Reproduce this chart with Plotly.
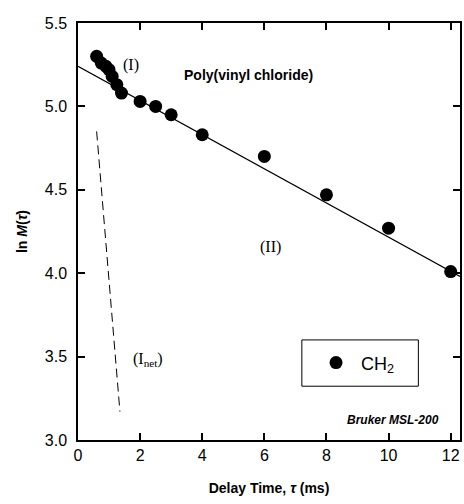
import plotly.graph_objects as go

# data
tau_ms = [0.6, 0.75, 0.9, 1.0, 1.1, 1.25, 1.4, 2.0, 2.5, 3.0, 4.0, 6.0, 8.0, 10.0, 12.0]
ln_M = [5.30, 5.26, 5.24, 5.22, 5.18, 5.13, 5.08, 5.03, 5.00, 4.95, 4.83, 4.70, 4.47, 4.27, 4.01]
fit_x = [0.0, 12.3]
fit_y = [5.24, 3.98]
inet_x = [0.6, 1.35]
inet_y = [4.85, 3.17]
x_ticks = [0, 2, 4, 6, 8, 10, 12]
y_ticks = [3.0, 3.5, 4.0, 4.5, 5.0, 5.5]

FONT = "Liberation Sans, Arial, sans-serif"
SERIF = "Liberation Serif, Times New Roman, serif"

fig = go.Figure()
fig.add_trace(go.Scatter(x=fit_x, y=fit_y, mode="lines",
                         line=dict(color="black", width=1.2), showlegend=False))
fig.add_trace(go.Scatter(x=inet_x, y=inet_y, mode="lines",
                         line=dict(color="black", width=1, dash="9px,5px"), showlegend=False))
fig.add_trace(go.Scatter(x=tau_ms, y=ln_M, mode="markers", name="CH<sub>2</sub>",
                         marker=dict(color="black", size=13, line=dict(width=0))))

fig.update_xaxes(range=[0, 12.3], tickvals=x_ticks, ticktext=[str(v) for v in x_ticks],
                 ticks="inside", ticklen=7, tickwidth=1.5, tickcolor="black",
                 showline=True, linecolor="black", linewidth=1.5, mirror="ticks",
                 showgrid=False, zeroline=False,
                 tickfont=dict(family=FONT, size=16, color="black"),
                 title=dict(text="<b>Delay Time, <i>τ</i> (ms)</b>",
                            font=dict(family=FONT, size=14, color="black"), standoff=20))
fig.update_yaxes(range=[3.0, 5.5], tickvals=y_ticks, ticktext=[f"{v:.1f}" for v in y_ticks],
                 ticks="inside", ticklen=7, tickwidth=1.5, tickcolor="black",
                 showline=True, linecolor="black", linewidth=1.5, mirror="ticks",
                 showgrid=False, zeroline=False, ticklabelstandoff=6,
                 tickfont=dict(family=FONT, size=16, color="black"),
                 title=dict(text="<b>ln <i>M</i>(<i>τ</i>)</b>",
                            font=dict(family=FONT, size=14, color="black"), standoff=14))

fig.add_annotation(x=5.5, y=5.19, text="<b>Poly(vinyl chloride)</b>", showarrow=False,
                   font=dict(family=FONT, size=14, color="black"))
fig.add_annotation(x=1.7, y=5.25, text="(I)", showarrow=False,
                   font=dict(family=SERIF, size=16, color="black"))
fig.add_annotation(x=6.2, y=4.16, text="(II)", showarrow=False,
                   font=dict(family=SERIF, size=16, color="black"))
fig.add_annotation(x=2.25, y=3.48, text="(I<sub>net</sub>)", showarrow=False,
                   font=dict(family=SERIF, size=16, color="black"))
fig.add_annotation(x=11.68, y=3.12, xanchor="right", text="<b><i>Bruker MSL-200</i></b>", showarrow=False,
                   font=dict(family=FONT, size=12, color="black"))

# legend frame
fig.add_shape(type="rect", xref="paper", yref="paper",
              x0=0.586, x1=0.891, y0=0.129, y1=0.240,
              line=dict(color="black", width=1), fillcolor="rgba(0,0,0,0)")

fig.update_layout(
    width=464, height=504,
    margin=dict(l=78, r=2, t=23, b=64),
    plot_bgcolor="white", paper_bgcolor="white",
    showlegend=True,
    legend=dict(x=0.61, y=0.185, xanchor="left", yanchor="middle",
                borderwidth=0, bgcolor="rgba(0,0,0,0)",
                font=dict(family=FONT, size=18, color="black"),
                itemwidth=40, tracegroupgap=0),
)

fig.write_html("out.html")
